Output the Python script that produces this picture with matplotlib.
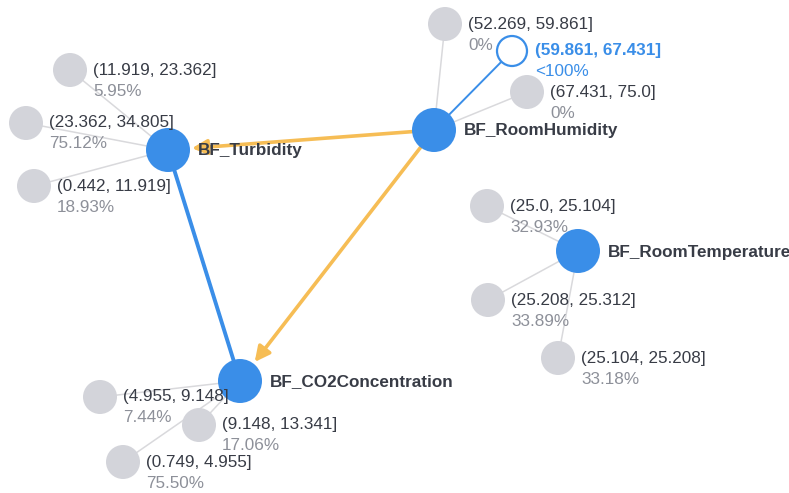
import matplotlib.pyplot as plt
from matplotlib.patches import Circle

plt.rcParams["font.family"] = ["Liberation Sans", "DejaVu Sans"]

# main variables (pixel positions of the layout)
main_names = ["BF_Turbidity", "BF_RoomHumidity", "BF_CO2Concentration", "BF_RoomTemperature"]
main_x = [168, 434, 240, 578]
main_y = [150, 130, 381, 251]

# state nodes: parent index, interval label, probability label
state_parent = [0, 0, 0, 1, 1, 1, 3, 3, 3, 2, 2, 2]
state_labels = [
    "(11.919, 23.362]", "(23.362, 34.805]", "(0.442, 11.919]",
    "(52.269, 59.861]", "(59.861, 67.431]", "(67.431, 75.0]",
    "(25.0, 25.104]", "(25.208, 25.312]", "(25.104, 25.208]",
    "(4.955, 9.148]", "(9.148, 13.341]", "(0.749, 4.955]",
]
state_pct = [
    "5.95%", "75.12%", "18.93%",
    "0%", "<100%", "0%",
    "32.93%", "33.89%", "33.18%",
    "7.44%", "17.06%", "75.50%",
]
state_x = [70, 26, 34, 445, 512, 527, 487, 488, 558, 100, 199, 123]
state_y = [70, 123, 186, 24, 51, 92, 206, 300, 358, 397, 425, 462]
selected_state = 4

# directed edges between main variables (source, target, kind)
edges = [(1, 0, "orange"), (1, 2, "orange"), (0, 2, "blue")]

BLUE = "#3a8ee8"
ORANGE = "#f6bd55"
GRAY_NODE = "#d3d4da"
GRAY_EDGE = "#d9d9dc"
TEXT_DARK = "#383c46"
TEXT_GRAY = "#8d9099"

R_MAIN = 22
R_STATE = 17
FS = 12.3

fig = plt.figure(figsize=(7.89, 4.93), dpi=100)
ax = fig.add_axes([0, 0, 1, 1])
ax.set_xlim(0, 789)
ax.set_ylim(493, 0)
ax.axis("off")

# state edges
for i in range(len(state_labels)):
    p = state_parent[i]
    if i == selected_state:
        ax.plot([main_x[p], state_x[i]], [main_y[p], state_y[i]], color=BLUE, lw=1.4, zorder=1)
    else:
        ax.plot([main_x[p], state_x[i]], [main_y[p], state_y[i]], color=GRAY_EDGE, lw=1.1, zorder=1)

# main edges
px2pt = 0.72
for s, t, kind in edges:
    if kind == "orange":
        ax.annotate("", xy=(main_x[t], main_y[t]), xytext=(main_x[s], main_y[s]),
                    arrowprops=dict(arrowstyle="-|>,head_length=0.9,head_width=0.45",
                                    color=ORANGE, lw=2.6,
                                    shrinkA=R_MAIN * px2pt, shrinkB=(R_MAIN + 2) * px2pt),
                    zorder=2)
    else:
        ax.plot([main_x[s], main_x[t]], [main_y[s], main_y[t]], color=BLUE, lw=2.8, zorder=2)

# state nodes
for i in range(len(state_labels)):
    if i == selected_state:
        ax.add_patch(Circle((state_x[i], state_y[i]), 15, facecolor="white",
                            edgecolor=BLUE, lw=1.6, zorder=3))
        ax.text(state_x[i] + 23, state_y[i] - 1, state_labels[i], color=BLUE,
                fontsize=FS, fontweight="bold", va="center", ha="left", zorder=5)
        ax.text(state_x[i] + 23, state_y[i] + 21, state_pct[i], color=BLUE,
                fontsize=FS, va="center", ha="left", zorder=5)
    else:
        ax.add_patch(Circle((state_x[i], state_y[i]), R_STATE, facecolor=GRAY_NODE,
                            edgecolor="none", zorder=3))
        ax.text(state_x[i] + 23, state_y[i], state_labels[i], color=TEXT_DARK,
                fontsize=FS, va="center", ha="left", zorder=5)
        ax.text(state_x[i] + 23, state_y[i] + 21, state_pct[i], color=TEXT_GRAY,
                fontsize=FS, va="center", ha="left", zorder=5)

# main nodes
for i in range(len(main_names)):
    ax.add_patch(Circle((main_x[i], main_y[i]), R_MAIN, facecolor=BLUE,
                        edgecolor="none", zorder=4))
    ax.text(main_x[i] + 30, main_y[i] + 1, main_names[i], color=TEXT_DARK,
            fontsize=FS, fontweight="bold", va="center", ha="left", zorder=5)

fig.savefig("out.png", dpi=100)
